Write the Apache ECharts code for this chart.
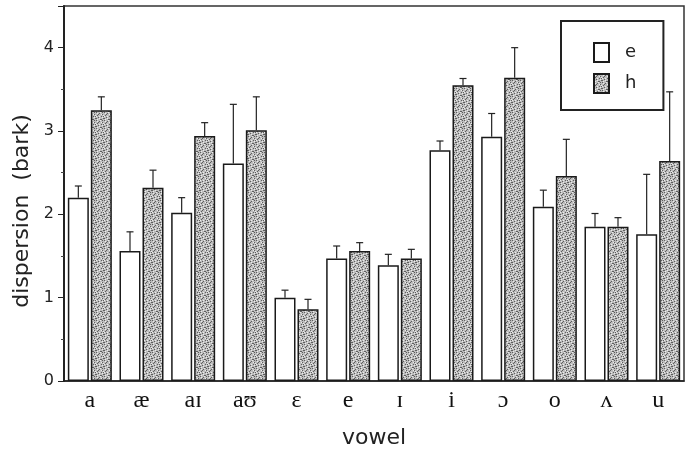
<!DOCTYPE html>
<html>
<head>
<meta charset="utf-8">
<script src="https://cdn.jsdelivr.net/npm/echarts@6/dist/echarts.min.js"></script>
<style>html,body{margin:0;padding:0;background:#fff}#c{width:688px;height:454px}</style>
</head>
<body>
<div id="c"></div>
<script>
// ---- data ----
const vowels = ['a', 'æ', 'aɪ', 'aʊ', 'ɛ', 'e', 'ɪ', 'i', 'ɔ', 'o', 'ʌ', 'u'];
const eValues = [2.20, 1.56, 2.02, 2.61, 1.00, 1.47, 1.39, 2.77, 2.93, 2.09, 1.85, 1.76];
const hValues = [3.25, 2.32, 2.94, 3.01, 0.86, 1.56, 1.47, 3.55, 3.64, 2.46, 1.85, 2.64];
const eErrors = [0.14, 0.23, 0.18, 0.71, 0.09, 0.15, 0.13, 0.11, 0.28, 0.20, 0.16, 0.72];
const hErrors = [0.16, 0.21, 0.16, 0.40, 0.12, 0.10, 0.11, 0.08, 0.36, 0.44, 0.11, 0.83];
const yTicks = [0, 1, 2, 3, 4];

// ---- style ----
const BAR_W = 21;
const BAR_GAP_PX = 2;
const OFFSET = (BAR_W + BAR_GAP_PX) / 2;

function stipple() {
  const c = document.createElement('canvas');
  c.width = 8; c.height = 8;
  const g = c.getContext('2d');
  g.fillStyle = '#bcbcbc';
  g.fillRect(0, 0, 8, 8);
  const dark = [[0,0],[3,1],[6,2],[1,3],[5,4],[2,5],[7,6],[4,7],[6,0],[2,2],[0,6],[5,7],[7,4]];
  const light = [[1,1],[4,0],[7,3],[3,4],[0,4],[6,5],[3,6],[1,7],[5,2]];
  g.fillStyle = '#5e5e5e';
  dark.forEach(p => g.fillRect(p[0], p[1], 1, 1));
  g.fillStyle = '#ebebeb';
  light.forEach(p => g.fillRect(p[0], p[1], 1, 1));
  return c;
}

function errSeries(values, errors, off) {
  return {
    type: 'custom',
    z: 5,
    silent: true,
    data: values.map((v, i) => [i, v, errors[i]]),
    renderItem: function (params, api) {
      const i = api.value(0), v = api.value(1), e = api.value(2);
      const p0 = api.coord([i, v]);
      const p1 = api.coord([i, v + e]);
      const x = p0[0] + off;
      const st = { stroke: '#222', lineWidth: 1.2 };
      return {
        type: 'group',
        children: [
          { type: 'line', shape: { x1: x, y1: p0[1], x2: x, y2: p1[1] }, style: st },
          { type: 'line', shape: { x1: x - 3.5, y1: p1[1], x2: x + 3.5, y2: p1[1] }, style: st }
        ]
      };
    }
  };
}

const chart = echarts.init(document.getElementById('c'), null, { renderer: 'canvas' });
const axisFont = '"DejaVu Sans", "Liberation Sans", sans-serif';

chart.setOption({
  animation: false,
  backgroundColor: '#fff',
  grid: { left: 64, right: 4, top: 6, bottom: 71, show: true, borderColor: '#333', borderWidth: 1.5, backgroundColor: 'transparent' },
  legend: {
    data: ['e', 'h'],
    orient: 'vertical',
    left: 561, top: 21,
    padding: [21, 27, 16, 32],
    itemWidth: 15, itemHeight: 19, itemGap: 10,
    borderColor: '#222', borderWidth: 2,
    icon: 'rect',
    textStyle: { fontFamily: axisFont, fontSize: 18, color: '#222', padding: [0, 0, 0, 11] }
  },
  xAxis: {
    type: 'category',
    data: vowels,
    axisLine: { lineStyle: { color: '#222', width: 1.5 } },
    axisTick: { alignWithLabel: true, length: 3, lineStyle: { color: '#222' } },
    axisLabel: { fontFamily: '"Liberation Serif", "DejaVu Serif", serif', fontSize: 24, color: '#111', margin: 8 },
    name: 'vowel',
    nameLocation: 'middle',
    nameGap: 46,
    nameTextStyle: { fontFamily: axisFont, fontSize: 22, color: '#222' }
  },
  yAxis: {
    type: 'value',
    min: 0, max: 4.5, interval: 1,
    axisLine: { show: true, lineStyle: { color: '#222', width: 2 } },
    axisTick: { show: true, length: 6, lineStyle: { color: '#222' } },
    minorTick: { show: true, splitNumber: 2, length: 3, lineStyle: { color: '#444' } },
    splitLine: { show: false },
    axisLabel: {
      fontFamily: axisFont, fontSize: 16, color: '#222', margin: 10,
      formatter: v => (yTicks.indexOf(v) >= 0 ? String(v) : '')
    }
  },
  graphic: [{
    type: 'text',
    x: 22, y: 211,
    rotation: Math.PI / 2,
    style: {
      text: 'dispersion  (bark)',
      fontFamily: axisFont, fontSize: 22, fill: '#222',
      textAlign: 'center', textVerticalAlign: 'middle'
    }
  }],
  series: [
    {
      name: 'e', type: 'bar', data: eValues,
      barWidth: BAR_W, barGap: (BAR_GAP_PX / BAR_W * 100) + '%',
      itemStyle: { color: '#ffffff', borderColor: '#1a1a1a', borderWidth: 1.5 }
    },
    {
      name: 'h', type: 'bar', data: hValues,
      barWidth: BAR_W,
      itemStyle: { color: { image: stipple(), repeat: 'repeat' }, borderColor: '#1a1a1a', borderWidth: 1.5 }
    },
    errSeries(eValues, eErrors, -OFFSET),
    errSeries(hValues, hErrors, OFFSET)
  ]
});
</script>
</body>
</html>
